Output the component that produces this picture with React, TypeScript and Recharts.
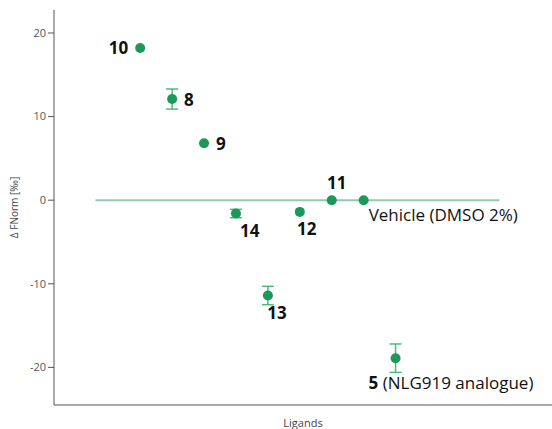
import React from "react";
import {
  ComposedChart,
  ErrorBar,
  Label,
  Line,
  Scatter,
  XAxis,
  YAxis,
} from "recharts";

const ligands = ["10", "8", "9", "14", "13", "12", "11", "Vehicle", "5"];
const positions = [1, 2, 3, 4, 5, 6, 7, 8, 9];
const deltaFNorm = [18.2, 12.1, 6.8, -1.6, -11.4, -1.4, 0, 0, -18.9];
const errors = [0, 1.2, 0, 0.5, 1.1, 0, 0, 0, 1.7];
const yTicks = [-20, -10, 0, 10, 20];
const vehicleSpan = [-0.4, 12.25];

const points = ligands.map((name, i) => ({
  name,
  x: positions[i],
  y: deltaFNorm[i],
  err: errors[i],
}));

const vehicleLine = vehicleSpan.map((x) => ({ x, y: 0 }));

const labelPlacement: Record<string, { dx: number; dy: number; anchor: string }> = {
  "10": { dx: -12, dy: 6, anchor: "end" },
  "8": { dx: 12, dy: 7, anchor: "start" },
  "9": { dx: 12, dy: 7, anchor: "start" },
  "14": { dx: 4, dy: 23, anchor: "start" },
  "12": { dx: 7, dy: 23, anchor: "middle" },
  "11": { dx: 5, dy: -11, anchor: "middle" },
  "13": { dx: 9, dy: 24, anchor: "middle" },
  Vehicle: { dx: 5, dy: 21, anchor: "start" },
  "5": { dx: -27, dy: 31, anchor: "start" },
};

const font = "'Open Sans', sans-serif";

function PointShape(props: any) {
  const { cx, cy, payload } = props;
  const p = labelPlacement[payload.name];
  let text: React.ReactNode = (
    <tspan fontWeight="bold">{payload.name}</tspan>
  );
  if (payload.name === "Vehicle") text = "Vehicle (DMSO 2%)";
  if (payload.name === "5")
    text = (
      <>
        <tspan fontWeight="bold">5</tspan> (NLG919 analogue)
      </>
    );
  return (
    <g>
      <circle cx={cx} cy={cy} r={5} fill="#1b9a57" />
      <text
        x={cx + p.dx}
        y={cy + p.dy}
        textAnchor={p.anchor as any}
        fontSize={17}
        fontFamily={font}
        fill="#111"
      >
        {text}
      </text>
    </g>
  );
}

export default function App() {
  return (
    <div style={{ position: "absolute", left: 0, top: 0, background: "#fff" }}>
      <ComposedChart
        width={552}
        height={429}
        margin={{ top: 10, right: 0, bottom: 0, left: 0 }}
      >
        <XAxis
          type="number"
          dataKey="x"
          domain={[-1.7, 13.9]}
          tick={false}
          height={24}
          axisLine={{ stroke: "#555" }}
          allowDataOverflow
        >
          <Label
            value="Ligands"
            position="insideBottom"
            offset={2}
            fontSize={11}
            fontFamily={font}
            fill="#444"
          />
        </XAxis>
        <YAxis
          type="number"
          dataKey="y"
          domain={[-24.5, 22.75]}
          ticks={yTicks}
          width={54}
          tickLine={{ stroke: "#555" }}
          axisLine={{ stroke: "#555" }}
          tick={{ fontSize: 11, fontFamily: font, fill: "#555" }}
          allowDataOverflow
        >
          <Label
            value="Δ FNorm [‰]"
            angle={-90}
            position="insideLeft"
            offset={14}
            fontSize={10}
            fontFamily={font}
            fill="#444"
            style={{ textAnchor: "middle" }}
          />
        </YAxis>
        <Line
          data={vehicleLine}
          dataKey="y"
          stroke="#86d1a6"
          strokeWidth={2}
          dot={false}
          isAnimationActive={false}
        />
        <Scatter
          data={points}
          dataKey="y"
          shape={PointShape}
          isAnimationActive={false}
        >
          <ErrorBar
            dataKey="err"
            direction="y"
            width={6}
            stroke="#4fba80"
            strokeWidth={1.5}
          />
        </Scatter>
      </ComposedChart>
    </div>
  );
}
